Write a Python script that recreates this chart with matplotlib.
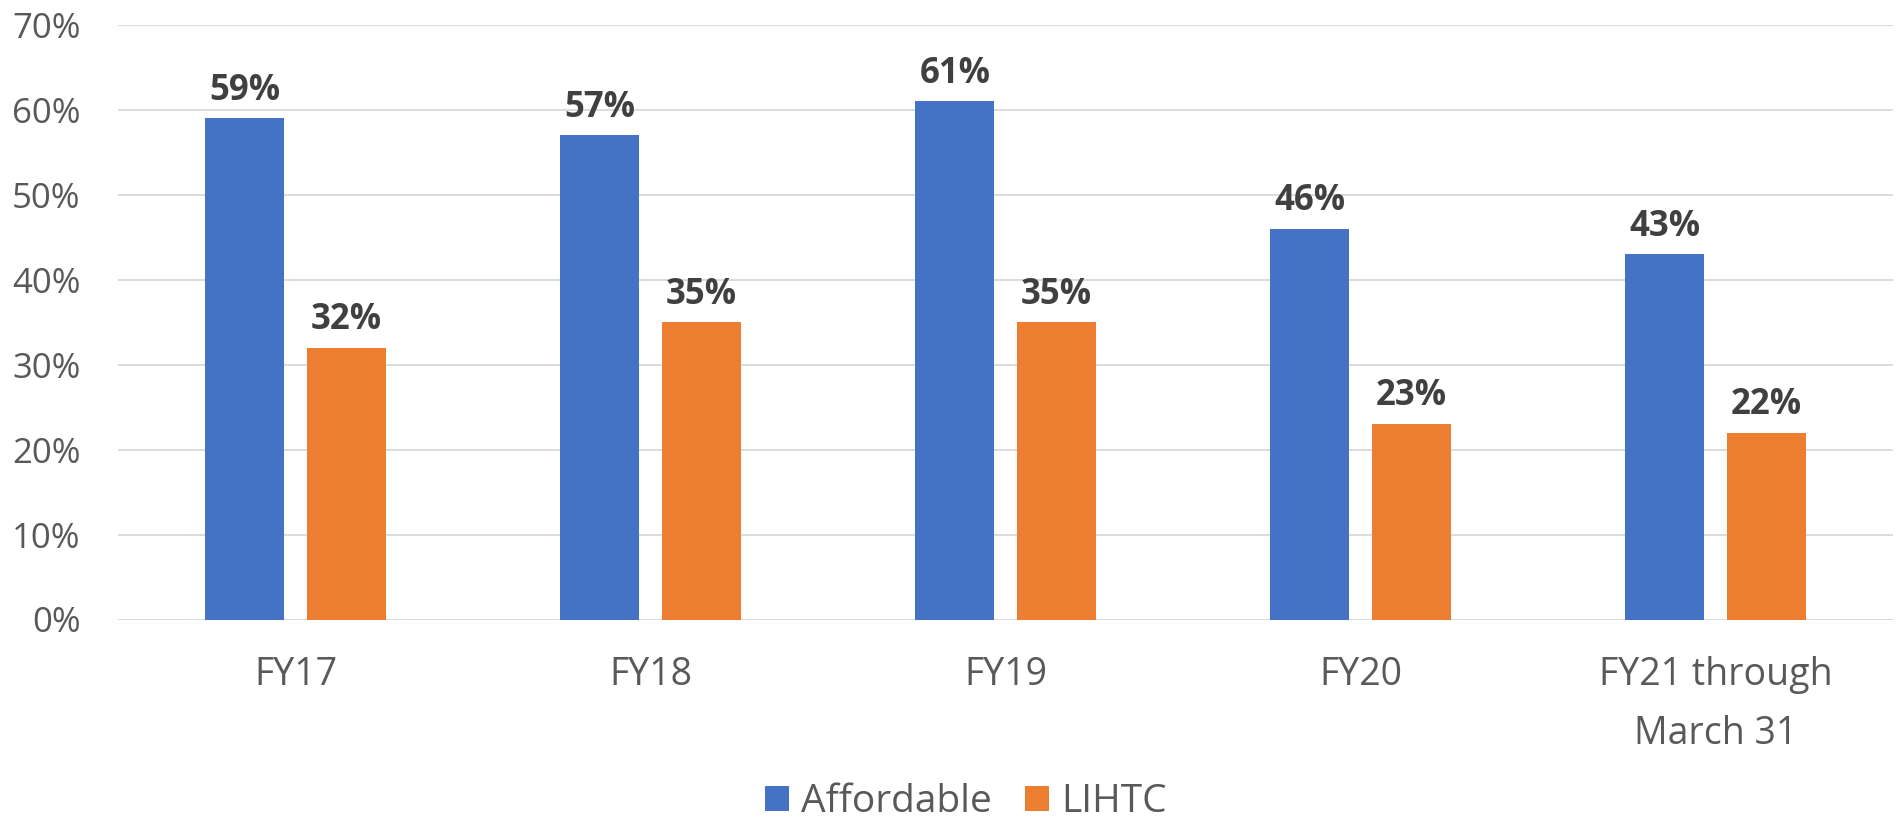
import matplotlib
matplotlib.use("Agg")
import matplotlib.pyplot as plt
import numpy as np

BLUE = "#4472C4"
ORANGE = "#ED7D31"
GRID = "#D9D9D9"
TICK = "#595959"
LABEL = "#404040"

plt.rcParams.update({
    "font.family": ["Open Sans", "DejaVu Sans"],
})

categories = ["FY17", "FY18", "FY19", "FY20", "FY21 through\nMarch 31"]
affordable = [59, 57, 61, 46, 43]
lihtc = [32, 35, 35, 23, 22]
yticks = [0, 10, 20, 30, 40, 50, 60, 70]

fig = plt.figure(figsize=(18.96, 8.18), dpi=100)
ax = fig.add_axes([118 / 1896, 1 - 619.5 / 818, (1893 - 118) / 1896, (619.5 - 25) / 818])

x = np.arange(len(categories))
bw = 0.223
off = 0.1425
b1 = ax.bar(x - off, affordable, bw, color=BLUE, label="Affordable", zorder=3)
b2 = ax.bar(x + off, lihtc, bw, color=ORANGE, label="LIHTC", zorder=3)

for bars, vals in ((b1, affordable), (b2, lihtc)):
    for r, v in zip(bars, vals):
        ax.annotate(f"{v}%", (r.get_x() + r.get_width() / 2, v),
                    textcoords="offset points", xytext=(0, 13.5),
                    ha="center", va="baseline", fontsize=25,
                    fontweight="bold", color=LABEL)

ax.set_xlim(-0.5, len(categories) - 0.5)
ax.set_ylim(0, 70)
ax.set_yticks(yticks)
ax.set_yticklabels([f"{t}%" for t in yticks], fontsize=25, color=TICK)
ax.set_xticks(x)
ax.set_xticklabels(categories, fontsize=27, color=TICK, linespacing=1.75)
ax.tick_params(length=0)
ax.tick_params(axis="y", pad=27)
ax.tick_params(axis="x", pad=26)
for s in ax.spines.values():
    s.set_visible(False)
ax.grid(axis="y", color=GRID, linewidth=1.3, zorder=0)
ax.set_axisbelow(True)

fig.legend(handles=[b1, b2], loc="center", bbox_to_anchor=(966 / 1896, 1 - 802 / 818),
           ncol=2, frameon=False, fontsize=28, labelcolor=TICK,
           handlelength=0.62, handleheight=0.62, handletextpad=0.32,
           columnspacing=0.85)

fig.savefig("out.png", dpi=100)
